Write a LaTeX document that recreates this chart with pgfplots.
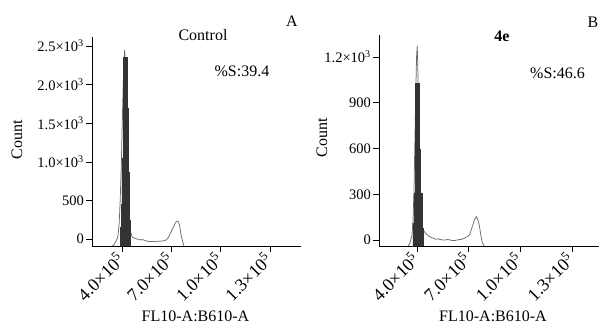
\documentclass[border=0pt]{standalone}
\usepackage{fontspec}
\setmainfont{Liberation Serif}
\usepackage{pgfplots}
\pgfplotsset{compat=1.18}
\pgfplotsset{
  flowstyle/.style={
    scale only axis,
    anchor=south west,
    axis lines=left,
    axis line style={-, line width=0.8pt, black},
    tick align=outside,
    major tick length=6pt,
    tick style={black, line width=0.6pt},
    xtick={4,7,10,13},
    xticklabels={4.0×10\textsuperscript{5},7.0×10\textsuperscript{5},1.0×10\textsuperscript{5},1.3×10\textsuperscript{5}},
    xticklabel style={rotate=45, anchor=east, font=\fontsize{18}{18}\selectfont, inner sep=0pt, xshift=-4pt, yshift=-2pt},
    yticklabel style={font=\fontsize{14.5}{14.5}\selectfont, inner sep=2pt},
    clip=false,
  },
  greyline/.style={black!58, line width=0.75pt},
  blackbars/.style={const plot mark left, fill=black!80, draw=black!80, line width=0.3pt},
}
\begin{document}
\begin{tikzpicture}
\useasboundingbox (0pt,0pt) rectangle (599pt,325pt);
% Panel A
\begin{axis}[flowstyle, at={(92pt,79pt)}, width=209pt, height=209pt,
  xmin=2.16, xmax=14.9, ymin=-91, ymax=2617,
  ytick={0,500,1000,1500,2000,2500},
  yticklabels={0,500,1.0×10\textsuperscript{3},1.5×10\textsuperscript{3},2.0×10\textsuperscript{3},2.5×10\textsuperscript{3}}]
\addplot[greyline] coordinates {
(3.388,-91)(3.480,-80)(3.571,-50)(3.633,-20)(3.694,0)(3.755,60)(3.816,200)(3.878,500)(3.939,900)(4.000,1450)(4.061,2000)(4.110,2300)(4.153,2450)(4.200,2200)(4.245,1800)(4.290,1200)(4.337,600)(4.370,300)(4.398,130)(4.440,120)(4.490,110)(4.550,60)(4.612,25)(4.700,15)(4.796,5)(4.900,0)(5.000,-5)(5.102,-12)(5.250,-8)(5.408,-22)(5.550,-28)(5.714,-35)(5.870,-30)(6.020,-36)(6.170,-28)(6.326,-30)(6.480,-24)(6.633,-20)(6.720,0)(6.816,20)(6.910,60)(7.000,100)(7.090,140)(7.184,180)(7.245,210)(7.306,225)(7.398,233)(7.440,215)(7.490,180)(7.540,120)(7.582,60)(7.630,20)(7.673,-20)(7.720,-60)(7.765,-91)
};
\addplot[blackbars] coordinates {
(3.896,-91)(3.896,150)(3.939,450)(3.982,1050)(4.080,2350)(4.288,1690)(4.349,870)(4.428,250)(4.477,-91)
};
\end{axis}
% Panel B
\begin{axis}[flowstyle, at={(379pt,79pt)}, width=220pt, height=211pt,
  xmin=1.8, xmax=14.57, ymin=-39, ymax=1344,
  ytick={0,300,600,900,1200},
  yticklabels={0,300,600,900,1.2×10\textsuperscript{3}}]
\addplot[greyline] coordinates {
(3.495,-39)(3.594,-20)(3.710,30)(3.768,120)(3.826,300)(3.884,650)(3.942,1000)(3.980,1200)(4.017,1274)(4.050,1150)(4.087,900)(4.130,600)(4.174,300)(4.220,150)(4.273,87)(4.340,75)(4.406,60)(4.520,42)(4.638,30)(4.750,22)(4.870,15)(5.000,10)(5.103,5)(5.250,8)(5.400,2)(5.625,0)(5.800,4)(6.000,-2)(6.205,-3)(6.400,2)(6.611,5)(6.750,12)(6.901,20)(7.000,30)(7.076,40)(7.160,70)(7.250,100)(7.350,135)(7.453,153)(7.530,135)(7.598,110)(7.660,70)(7.714,30)(7.760,5)(7.801,-20)(7.905,-39)
};
\addplot[blackbars] coordinates {
(3.710,-39)(3.768,110)(3.826,310)(3.900,1027)(4.133,597)(4.203,310)(4.290,80)(4.348,-39)
};
\end{axis}
% Texts
\begin{scope}[every node/.style={font=\fontsize{16}{16}\selectfont, inner sep=0pt}]
\node[rotate=90] at (17pt,185pt) {Count};
\node at (195.5pt,9pt) {FL10-A:B610-A};
\node at (203pt,290pt) {Control};
\node at (292pt,304pt) {A};
\node at (242pt,254pt) {\%S:39.4};
\node[rotate=90] at (322pt,187pt) {Count};
\node at (493pt,9pt) {FL10-A:B610-A};
\node at (502pt,289pt) {\bfseries 4e};
\node at (593pt,303pt) {B};
\node at (557.5pt,252pt) {\%S:46.6};
\end{scope}
\end{tikzpicture}
\end{document}
